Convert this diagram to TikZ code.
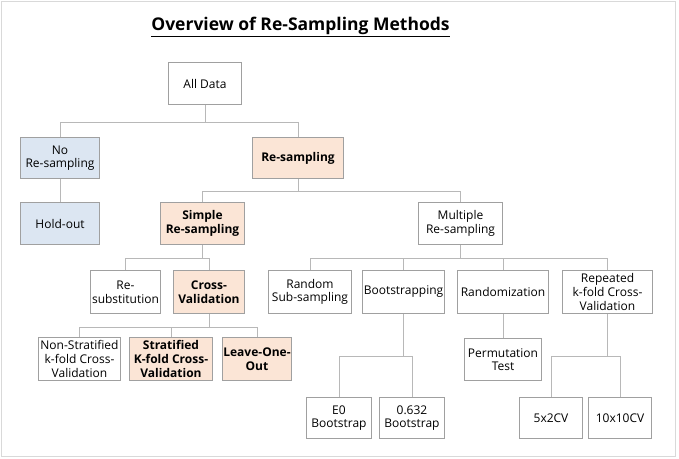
\documentclass[tikz,border=0pt]{standalone}
\usepackage{fontspec}
\setmainfont{Open Sans}
\definecolor{bord}{HTML}{A0A0A0}
\definecolor{connc}{HTML}{B8B8B8}
\definecolor{framec}{HTML}{D9D9D9}
\definecolor{bluef}{HTML}{DCE6F2}
\definecolor{peachf}{HTML}{FBE5D6}
\tikzset{
  box/.style={draw=bord, line width=1.6pt, fill=white, align=center, inner sep=0pt,
    font=\fontsize{12}{13.6}\selectfont},
  bluebox/.style={box, fill=bluef},
  peachbox/.style={box, fill=peachf, font=\fontsize{12}{13.6}\selectfont\bfseries},
  conn/.style={draw=connc, line width=1pt},
  sz/.style n args={2}{minimum width=#1 pt, minimum height=#2 pt}
}
\begin{document}
\begin{tikzpicture}[x=1pt,y=-1pt]
\useasboundingbox (0,0) rectangle (679,458);
\draw[framec, line width=1pt] (1,1) rectangle (675,456);
\node[font=\fontsize{17.5}{20}\selectfont\bfseries] (title) at (300.5,27) {\underline{Overview of Re-Sampling Methods}};

\node[box, sz={73}{42}] (all) at (205,83.5) {All Data};
\node[bluebox, sz={79}{41}] (nores) at (60,158) {No\\Re-sampling};
\node[bluebox, sz={79}{42}] (hold) at (60,223.5) {Hold-out};
\node[peachbox, sz={91}{41}] (res) at (298,158) {Re-sampling};
\node[peachbox, sz={84}{42}] (simple) at (202.5,223.5) {Simple\\Re-sampling};
\node[box, sz={84}{42}] (multi) at (460.5,223.5) {Multiple\\Re-sampling};
\node[box, sz={70}{43}] (resub) at (125.5,292) {Re-\\substitution};
\node[peachbox, sz={71}{43}] (cv) at (209,292) {Cross-\\Validation};
\node[box, sz={83}{43}] (rss) at (310,292) {Random\\Sub-sampling};
\node[box, sz={82}{43}] (boot) at (403.5,292) {Bootstrapping};
\node[box, sz={91}{43}] (rand) at (503,292) {Randomization};
\node[box, sz={90}{43}] (rep) at (607.5,292) {Repeated\\k-fold Cross-\\Validation};
\node[box, sz={82}{43}] (nonstrat) at (79.5,359) {Non-Stratified\\k-fold Cross-\\Validation};
\node[peachbox, sz={83}{43}] (strat) at (171,359) {Stratified\\K-fold Cross-\\Validation};
\node[peachbox, sz={69}{43}] (loo) at (257,359) {Leave-One-\\Out};
\node[box, sz={77}{42}] (perm) at (503,359.5) {Permutation\\Test};
\node[box, sz={65}{41}] (e0) at (339,418) {E0\\Bootstrap};
\node[box, sz={65}{41}] (b632) at (412,418) {0.632\\Bootstrap};
\node[box, sz={63}{41}] (cv52) at (551,418) {5x2CV};
\node[box, sz={63}{41}] (cv1010) at (620,418) {10x10CV};

\coordinate (y1) at (0,122);
\coordinate (y2) at (0,191);
\coordinate (y3) at (0,258.5);
\coordinate (y5) at (0,327);
\coordinate (y6) at (0,356);

\foreach \p/\c/\y in {all/nores/y1, all/res/y1, res/simple/y2, res/multi/y2,
  simple/resub/y3, simple/cv/y3, multi/rss/y3, multi/boot/y3, multi/rand/y3, multi/rep/y3,
  cv/nonstrat/y5, cv/strat/y5, cv/loo/y5, boot/e0/y6, boot/b632/y6, rep/cv52/y6, rep/cv1010/y6}
  \draw[conn] (\p.south) -- (\p.south |- \y) -| (\c.north);
\draw[conn] (nores.south) -- (hold.north);
\draw[conn] (rand.south) -- (perm.north);
\end{tikzpicture}
\end{document}
